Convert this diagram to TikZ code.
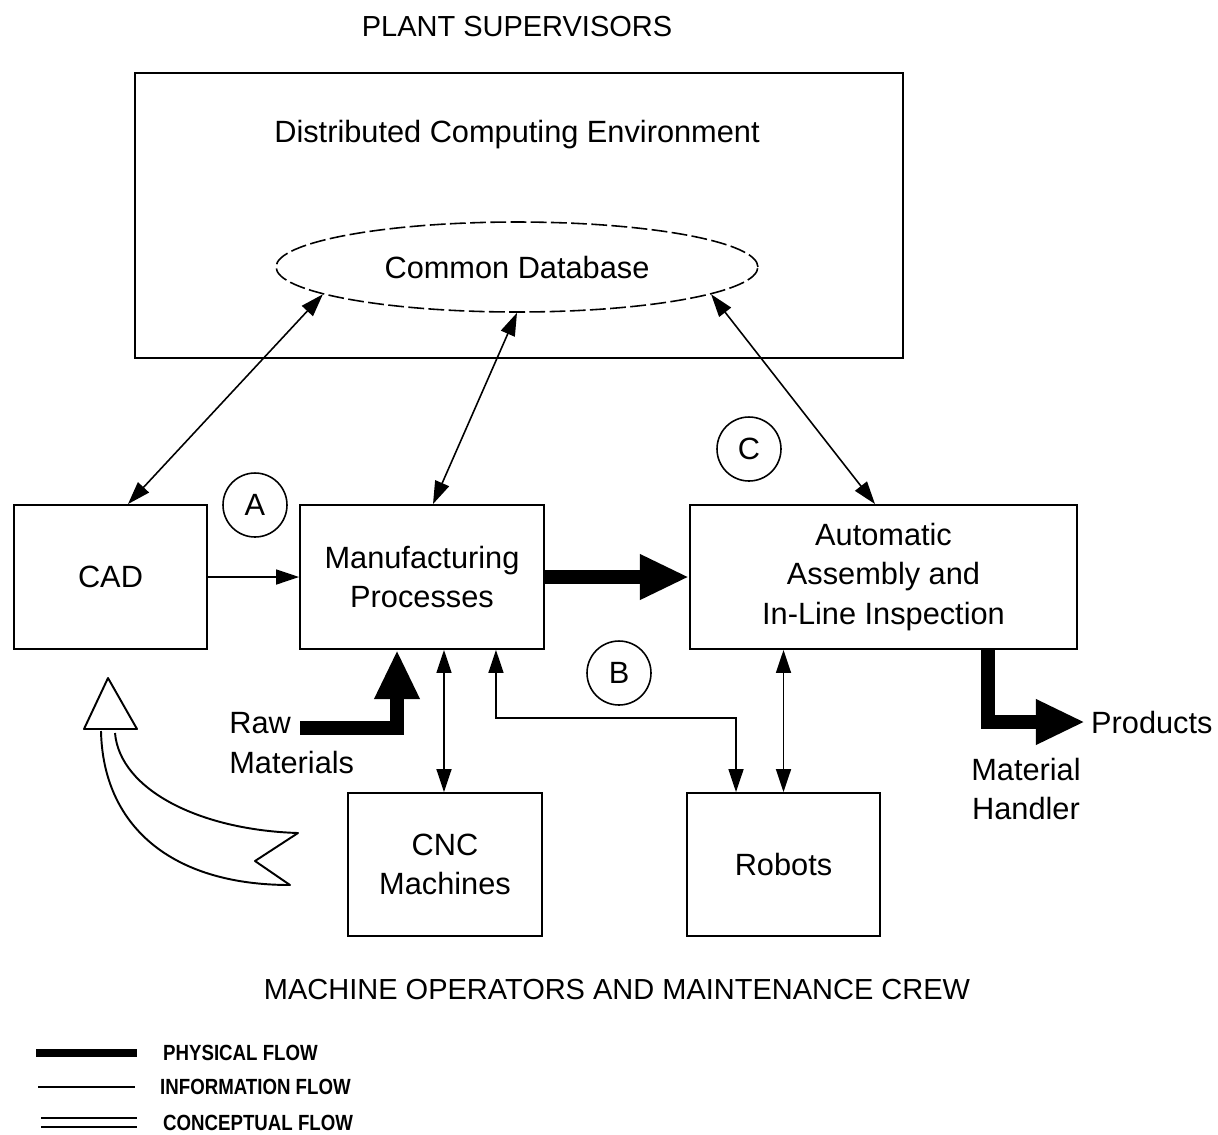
\documentclass[tikz,border=0pt]{standalone}
\usepackage{fontspec}
\setmainfont{Liberation Sans}
\newfontfamily\legfont[FakeStretch=0.85]{Liberation Sans}
\usetikzlibrary{arrows.meta,shapes.geometric}

\begin{document}
\begin{tikzpicture}[
    x=0.02cm, y=-0.02cm,
    lbl/.style={font=\fontsize{17.5}{22.5}\selectfont, align=center},
    caps/.style={font=\fontsize{16.5}{20}\selectfont},
    box/.style={lbl, draw, line width=1.1pt, inner sep=0pt, minimum height=2.88cm},
    tag/.style={lbl, draw, circle, line width=0.9pt, minimum size=1.28cm, inner sep=0pt},
    % ── flows ──
    info/.style={line width=0.9pt, {Triangle[length=13pt,width=8.5pt]}-{Triangle[length=13pt,width=8.5pt]}},
    infoto/.style={line width=0.9pt, -{Triangle[length=13pt,width=8.5pt]}},
    phys/.style={line width=8pt, line join=miter, -{Triangle[length=28pt,width=24pt]}},
    hollow/.style={draw, fill=white, line width=1.1pt, line join=round},
    legtext/.style={font=\legfont\bfseries\fontsize{12.5}{14}\selectfont, anchor=west},
]

\useasboundingbox (0,0) rectangle (1218,1134);

% ══════════════════════════════════════
% TOP: supervisors and computing environment
% ══════════════════════════════════════
\node[caps] (sup) at (517,27) {PLANT SUPERVISORS};
\node[draw, line width=1.1pt, minimum width=15.36cm, minimum height=5.7cm, inner sep=0pt] (dce) at (519,215.5) {};
\node[lbl] (dcel) at (517,135) {Distributed Computing Environment};
\node[lbl, ellipse, draw, dash pattern=on 9pt off 2.5pt, line width=0.9pt,
      minimum width=9.64cm, minimum height=1.8cm, inner sep=0pt] (db) at (517,267) {Common Database};

% ══════════════════════════════════════
% MIDDLE: cells
% ══════════════════════════════════════
\node[box, minimum width=3.86cm] (cad) at (110.5,577) {CAD};
\node[box, minimum width=4.88cm] (mfg) at (422,577) {Manufacturing\\Processes};
\node[box, minimum width=7.74cm] (asm) at (883.5,577) {Automatic\\Assembly and\\In-Line Inspection};
\node[box, minimum width=3.88cm, minimum height=2.86cm] (cnc) at (445,864.5) {CNC\\Machines};
\node[box, minimum width=3.86cm, minimum height=2.86cm] (rob) at (783.5,864.5) {Robots};

\node[tag] (ta) at (255,505) {A};
\node[tag] (tb) at (619,673) {B};
\node[tag] (tc) at (749,449) {C};

\node[lbl, align=left, anchor=west, inner sep=0pt] (raw) at (229,743) {Raw\\Materials};
\node[lbl, anchor=west] (prod) at (1085,722) {Products};
\node[lbl] (mh) at (1026,789) {Material\\Handler};

\node[caps] (crew) at (617,990) {MACHINE OPERATORS AND MAINTENANCE CREW};

% Information flow
\draw[info] ([xshift=0.35cm]cad.north) -- (db.188);
\draw[info] ([xshift=0.22cm]mfg.north) -- (db.south);
\draw[info] ([xshift=-0.17cm]asm.north) -- (db.352);
\draw[infoto] (cad) -- (mfg);

\coordinate (m1) at ([xshift=0.44cm]mfg.south);
\draw[info] (m1) -- (m1 |- cnc.north);

\coordinate (m2) at ([xshift=1.48cm]mfg.south);
\coordinate (r1) at ([xshift=-0.95cm]rob.north);
\coordinate (fb) at (616,718);
\draw[info] (m2) |- (fb) -| (r1);

\draw[info] (rob.north) -- (rob.north |- asm.south);

% Physical flow
\draw[phys] (mfg) -- (asm);
\coordinate (rawin) at (300,728);
\draw[phys] (rawin) -| ([xshift=-0.5cm]mfg.south);
\draw[phys] ([xshift=2.09cm]asm.south) |- (prod.west);

% Conceptual flow
\draw[hollow] (108,678) -- (84,729) -- (137,729) -- cycle;
\draw[hollow] (101,731) .. controls (103,825) and (170,885) .. (290,885)
    -- (255,861) -- (298,833) .. controls (200,830) and (120,790) .. (115,733);

% ══════════════════════════════════════
% Legend
% ══════════════════════════════════════
\draw[line width=5pt] (36,1053) -- (137,1053);
\node[legtext] (lphys) at (157,1053) {PHYSICAL FLOW};
\draw[line width=0.8pt] (38,1087) -- (135,1087);
\node[legtext] (linfo) at (154,1087) {INFORMATION FLOW};
\draw[line width=0.8pt] (41,1118) -- (137,1118) (41,1127) -- (137,1127);
\node[legtext] (lconc) at (157,1123) {CONCEPTUAL FLOW};

\end{tikzpicture}
\end{document}
